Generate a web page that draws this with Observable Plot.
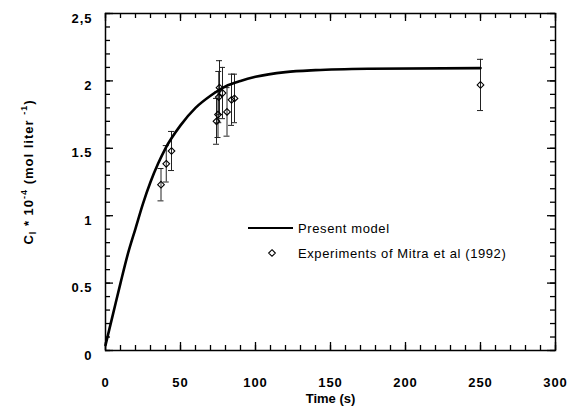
<!DOCTYPE html>
<html><head><meta charset="utf-8">
<script src="https://cdn.jsdelivr.net/npm/d3@7"></script>
<script src="https://cdn.jsdelivr.net/npm/@observablehq/plot@0.6"></script>
<style>
body{margin:0;background:#fff;}
#chart svg{font-family:"Liberation Sans",Arial,sans-serif;}
#chart g[aria-label="x-axis tick label"] text,
#chart g[aria-label="y-axis tick label"] text{letter-spacing:1px;}
</style></head><body><div id="chart"></div>
<script>
// Model curve
const modelTime = [0, 5, 10, 15, 20, 25, 30, 35, 40, 50, 60, 70, 80, 90, 100, 120, 140, 175, 250];
const modelConc = [0.04, 0.27, 0.5, 0.72, 0.905, 1.09, 1.25, 1.385, 1.5, 1.67, 1.8, 1.89, 1.96, 2.0, 2.03, 2.065, 2.08, 2.09, 2.095];
// Experiments of Mitra et al (1992)
const expTime = [37, 40.5, 44, 74, 75, 75.5, 76, 78, 81, 84, 86, 250];
const expConc = [1.23, 1.385, 1.48, 1.70, 1.75, 1.88, 1.95, 1.91, 1.77, 1.86, 1.87, 1.97];
const expErr  = [0.12, 0.135, 0.145, 0.17, 0.17, 0.19, 0.2, 0.19, 0.18, 0.19, 0.18, 0.19];
// Ticks
const xTicks = [0, 50, 100, 150, 200, 250, 300];
const xTickLabels = ["0", "50", "100", "150", "200", "250", "300"];
const yTicks = [0, 0.5, 1, 1.5, 2, 2.5];
const yTickLabels = ["0", "0.5", "1", "1.5", "2", "2,5"];
const xMinor = d3.range(0, 301, 10);
const yMinor = d3.range(0, 26).map(i => i / 10);
const xLabel = "Time (s)";
const legendLabels = ["Present model", "Experiments of Mitra et al (1992)"];

const model = modelTime.map((t, i) => ({t, v: modelConc[i]}));
const exp = expTime.map((t, i) => ({t, v: expConc[i], e: expErr[i]}));

const W = 567, H = 415, mL = 105, mR = 12, mT = 13, mB = 65;
const fw = W - mL - mR, fh = H - mT - mB;
const minorLen = 5, majorLen = 8;
const tk = {stroke: "black", strokeWidth: 1.3};
const font = {fontWeight: "bold", fontSize: 13};
const dotR = 3.0;

const chart = Plot.plot({
  width: W, height: H,
  marginLeft: mL, marginRight: mR, marginTop: mT, marginBottom: mB,
  x: {domain: [0, 300], axis: null},
  y: {domain: [0, 2.5], axis: null},
  marks: [
    Plot.frame({strokeWidth: 1.5, fill: "none"}),
    // inside ticks, all four sides
    Plot.ruleX(xMinor, {x: d => d, insetTop: fh - minorLen, ...tk}),
    Plot.ruleX(xTicks, {x: d => d, insetTop: fh - majorLen, ...tk}),
    Plot.ruleX(xMinor, {x: d => d, insetBottom: fh - minorLen, ...tk}),
    Plot.ruleX(xTicks, {x: d => d, insetBottom: fh - majorLen, ...tk}),
    Plot.ruleY(yMinor, {y: d => d, insetRight: fw - minorLen, ...tk}),
    Plot.ruleY(yTicks, {y: d => d, insetRight: fw - majorLen, ...tk}),
    Plot.ruleY(yMinor, {y: d => d, insetLeft: fw - minorLen, ...tk}),
    Plot.ruleY(yTicks, {y: d => d, insetLeft: fw - majorLen, ...tk}),
    Plot.axisX({anchor: "bottom", ticks: xTicks, tickSize: 0, tickPadding: 27, label: null,
      tickFormat: d => xTickLabels[xTicks.indexOf(d)], ...font}),
    Plot.axisY({anchor: "left", ticks: yTicks, tickSize: 0, tickPadding: 13, dy: 5, label: null,
      tickFormat: d => yTickLabels[yTicks.indexOf(d)], ...font}),
    Plot.text([xLabel], {text: d => d, frameAnchor: "bottom", dy: 52, ...font}),
    Plot.ruleX(exp, {x: "t", y1: d => d.v - d.e, y2: d => d.v + d.e, stroke: "#222", strokeWidth: 1}),
    Plot.ruleY(exp, {y: d => d.v + d.e, x1: "t", x2: "t", insetLeft: -3, insetRight: -3, stroke: "#222", strokeWidth: 1}),
    Plot.ruleY(exp, {y: d => d.v - d.e, x1: "t", x2: "t", insetLeft: -3, insetRight: -3, stroke: "#222", strokeWidth: 1}),
    Plot.line(model, {x: "t", y: "v", curve: "monotone-x", stroke: "black", strokeWidth: 2.6}),
    Plot.dot(exp, {x: "t", y: "v", symbol: "diamond2", r: dotR, stroke: "black", strokeWidth: 1.1, fill: "none"})
  ]
});
document.getElementById("chart").appendChild(chart);

const svg = d3.select(chart);
// Y axis title with sub/superscripts
const yt = svg.append("text")
  .attr("transform", "translate(33,172) rotate(-90)")
  .attr("text-anchor", "middle").attr("font-weight", "bold").attr("font-size", 13)
  .attr("fill", "black").style("letter-spacing", "1px");
yt.append("tspan").text("C");
yt.append("tspan").attr("dy", 3).attr("font-size", 9).text("l");
yt.append("tspan").attr("dy", -3).text(" * 10");
yt.append("tspan").attr("dy", -6).attr("font-size", 9).text("-4");
yt.append("tspan").attr("dy", 6).text(" (mol liter ");
yt.append("tspan").attr("dy", -6).attr("font-size", 9).text("-1");
yt.append("tspan").attr("dy", 6).text(")");

// Legend
const lg = svg.append("g").attr("font-size", 13).attr("fill", "black").attr("text-anchor", "start");
lg.append("line").attr("x1", 248).attr("x2", 293).attr("y1", 228).attr("y2", 228)
  .attr("stroke", "black").attr("stroke-width", 2);
lg.append("text").attr("x", 298).attr("y", 228).attr("dy", "0.35em")
  .style("letter-spacing", "0.6px").text(legendLabels[0]);
lg.append("path").attr("d", d3.symbol(d3.symbolDiamond2, Math.PI * dotR * dotR)())
  .attr("transform", "translate(272,253)").attr("fill", "none").attr("stroke", "black").attr("stroke-width", 1.1);
lg.append("text").attr("x", 298).attr("y", 253).attr("dy", "0.35em")
  .style("letter-spacing", "0.6px").text(legendLabels[1]);
</script></body></html>
